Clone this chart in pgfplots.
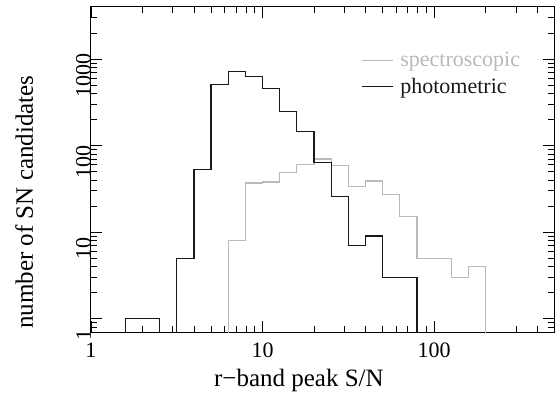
\documentclass[border=0pt]{standalone}
\usepackage{fontspec}
\setmainfont{Liberation Serif}
\usepackage{pgfplots}
\usepackage{pgfplotstable}
\pgfplotsset{compat=1.18}
\definecolor{specgray}{RGB}{185,185,185}
\definecolor{photblack}{RGB}{25,25,25}
\pgfplotstableread{
x y
1.0 0.01
1.5849 1
2.5119 0.01
3.1623 5
3.9811 53
5.0119 510
6.3096 726
7.9433 635
10 453
12.589 248
15.849 147
19.953 64
25.119 26
31.623 7
39.811 9
50.119 3
79.433 0.01
100 0.01
}\photdata
\pgfplotstableread{
x y
1.0 0.01
6.3096 8
7.9433 37
10 38
12.589 49
15.849 61
19.953 70
25.119 59
31.623 33.5
39.811 39
50.119 27
63.096 15
79.433 5
125.89 3
158.49 4
199.53 0.01
300 0.01
}\specdata
\begin{document}
\begin{tikzpicture}[x=1pt,y=1pt]
\useasboundingbox (-91,-62) rectangle (465,332);
\begin{axis}[
 at={(0,0)}, anchor=south west,
 scale only axis, width=463pt, height=325pt,
 xmode=log, ymode=log,
 xmin=1, xmax=500, ymin=0.7, ymax=4000,
 xtick={1,10,100}, xticklabels={1,10,100},
 ytick={1,10,100,1000}, yticklabels={1,10,100,1000},
 minor xtick={2,3,4,5,6,7,8,9,20,30,40,50,60,70,80,90,200,300,400},
 minor ytick={0.8,0.9,2,3,4,5,6,7,8,9,20,30,40,50,60,70,80,90,200,300,400,500,600,700,800,900,2000,3000},
 tick align=inside, tick pos=both,
 major tick length=11.5pt, minor tick length=6pt,
 axis line style={line width=1pt, black},
 every tick/.style={line width=0.8pt, black},
 tick label style={font=\fontsize{22}{24}\selectfont},
 /pgf/number format/assume math mode=true,
 yticklabel style={rotate=90, anchor=south, inner sep=0pt, xshift=-16pt},
 xticklabel style={anchor=north, inner sep=0pt, yshift=-11pt},
 xlabel={r−band peak S/N},
 xlabel style={at={(axis description cs:0.449,-0.1692)}, anchor=base, inner sep=0pt, font=\fontsize{25}{27}\selectfont},
 ylabel={number of SN candidates},
 ylabel style={at={(axis description cs:-0.1253,0.4)}, anchor=base, inner sep=0pt, font=\fontsize{25}{27}\selectfont},
 legend style={at={(axis description cs:0.583,0.868)}, anchor=north west, draw=none, fill=none, font=\fontsize{22}{24}\selectfont, inner sep=0pt, row sep=6pt,
   /tikz/every odd column/.style={column sep=5pt}},
 legend cell align=left,
 legend image code/.code={\draw[#1] (0pt,0pt) -- (31pt,0pt);},
]
\addplot[const plot, specgray, line width=1.2pt, mark=none] table[x=x,y=y] {\specdata};
\addlegendentry{\textcolor{specgray}{spectroscopic}}
\addplot[const plot, photblack, line width=1.2pt, mark=none] table[x=x,y=y] {\photdata};
\addlegendentry{\textcolor{photblack}{photometric}}
\end{axis}
\end{tikzpicture}
\end{document}
